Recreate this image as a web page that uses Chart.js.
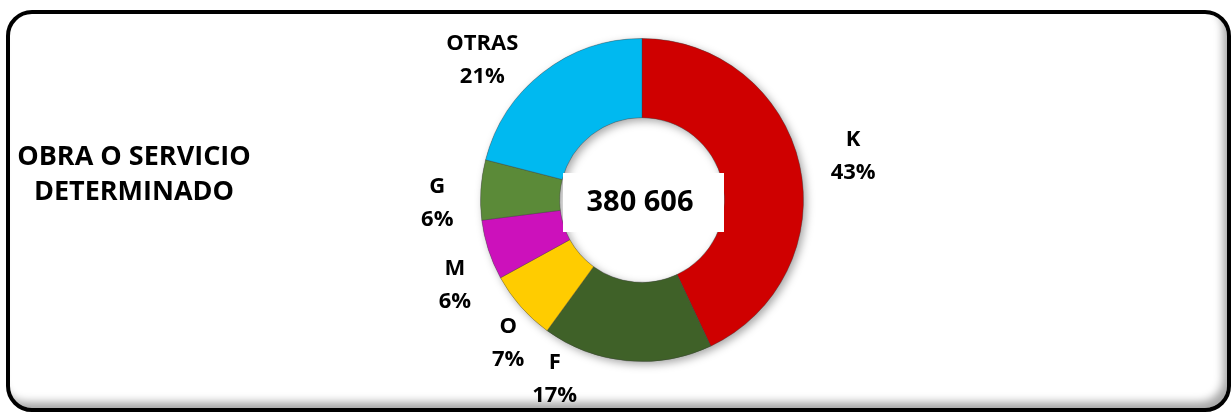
<!DOCTYPE html>
<html>
<head>
<meta charset="utf-8">
<script src="https://cdn.jsdelivr.net/npm/chart.js@4.4.1/dist/chart.umd.min.js"></script>
<style>
  html, body { margin: 0; padding: 0; background: #ffffff; }
  body { width: 1231px; height: 412px; position: relative; overflow: hidden; }
  #frame {
    position: absolute; left: 6px; top: 10px; width: 1225px; height: 402px;
    box-sizing: border-box; border: 4px solid #000; border-radius: 26px;
    box-shadow: inset -6px -8px 8px -2px rgba(0,0,0,0.35);
    background: #fff;
  }
  #c { position: absolute; left: 0; top: 0; }
</style>
</head>
<body>
<div id="frame"></div>
<canvas id="c" width="1231" height="412"></canvas>
<script>
// ---- data ----
const categories = ["K", "F", "O", "M", "G", "OTRAS"];
const shares = [43, 17, 7, 6, 6, 21];
const totalLabel = "380 606";
const titleLines = ["OBRA O SERVICIO", "DETERMINADO"];

// ---- styles ----
const colors = ["#CF0000", "#3F6128", "#FFCC00", "#CC11BB", "#5B8A38", "#00B9F0"];
const labelNudge = { K: [11, 0], F: [-68, -25], O: [20, 7], M: [8, 21], G: [0, 16], OTRAS: [-34, 22] };
const FONT = "'Open Sans', 'DejaVu Sans', sans-serif";

function shade(hex, f) {
  const n = parseInt(hex.slice(1), 16);
  let r = (n >> 16) & 255, g = (n >> 8) & 255, b = n & 255;
  const m = v => Math.max(0, Math.min(255, Math.round(f < 0 ? v * (1 + f) : v + (255 - v) * f)));
  return `rgb(${m(r)},${m(g)},${m(b)})`;
}

const bevelFill = (ctx) => {
  const chart = ctx.chart;
  const el = chart.getDatasetMeta(0).data[ctx.dataIndex];
  const base = colors[ctx.dataIndex];
  if (!el || !el.outerRadius) return base;
  const { x, y, innerRadius, outerRadius } = el.getProps(['x', 'y', 'innerRadius', 'outerRadius'], true);
  if (!outerRadius) return base;
  const g = chart.ctx.createRadialGradient(x, y, innerRadius, x, y, outerRadius);
  g.addColorStop(0, shade(base, -0.3));
  g.addColorStop(0.06, shade(base, 0.15));
  g.addColorStop(0.14, base);
  g.addColorStop(0.86, base);
  g.addColorStop(0.94, shade(base, 0.1));
  g.addColorStop(1, shade(base, -0.35));
  return g;
};

const decor = {
  id: 'decor',
  beforeDatasetsDraw(chart) {
    const ctx = chart.ctx;
    const el = chart.getDatasetMeta(0).data[0];
    if (!el) return;
    ctx.save();
    ctx.shadowColor = 'rgba(0,0,0,0.35)';
    ctx.shadowBlur = 8;
    ctx.shadowOffsetX = 3;
    ctx.shadowOffsetY = 3;
    ctx.beginPath();
    ctx.arc(el.x, el.y, el.outerRadius, 0, Math.PI * 2);
    ctx.arc(el.x, el.y, el.innerRadius, 0, Math.PI * 2, true);
    ctx.fillStyle = '#888';
    ctx.fill('evenodd');
    ctx.restore();
  },
  afterDatasetsDraw(chart) {
    const ctx = chart.ctx;
    const meta = chart.getDatasetMeta(0);
    const total = shares.reduce((a, b) => a + b, 0);
    ctx.save();
    ctx.fillStyle = '#000';
    ctx.textAlign = 'center';
    ctx.textBaseline = 'middle';
    ctx.font = `bold 22px ${FONT}`;
    meta.data.forEach((arc, i) => {
      const p = arc.getProps(['x', 'y', 'startAngle', 'endAngle', 'outerRadius'], true);
      const mid = (p.startAngle + p.endAngle) / 2;
      const r = p.outerRadius * 1.27;
      const nudge = labelNudge[categories[i]] || [0, 0];
      const lx = p.x + Math.cos(mid) * r + nudge[0];
      const ly = p.y + Math.sin(mid) * r + nudge[1];
      const pct = Math.round(shares[i] / total * 100) + '%';
      ctx.fillText(categories[i], lx, ly - 16);
      ctx.fillText(pct, lx, ly + 17);
    });
    // center box
    const c = meta.data[0];
    ctx.fillStyle = '#fff';
    ctx.fillRect(c.x - 79, c.y - 27, 161, 59);
    ctx.fillStyle = '#000';
    ctx.font = `bold 29px ${FONT}`;
    ctx.fillText(totalLabel, c.x - 2, c.y + 3);
    // title
    ctx.font = `bold 27px ${FONT}`;
    ctx.fillText(titleLines[0], 134, 157);
    ctx.fillText(titleLines[1], 134, 192);
    ctx.restore();
  }
};

new Chart(document.getElementById('c'), {
  type: 'doughnut',
  data: {
    labels: categories,
    datasets: [{
      data: shares,
      backgroundColor: bevelFill,
      borderColor: 'rgba(60,60,60,0.35)',
      borderWidth: 1,
      hoverOffset: 0
    }]
  },
  options: {
    responsive: false,
    animation: false,
    cutout: '51%',
    rotation: 0,
    layout: { padding: { left: 480, right: 427, top: 38, bottom: 50 } },
    plugins: { legend: { display: false }, tooltip: { enabled: false } }
  },
  plugins: [decor]
});
</script>
</body>
</html>
